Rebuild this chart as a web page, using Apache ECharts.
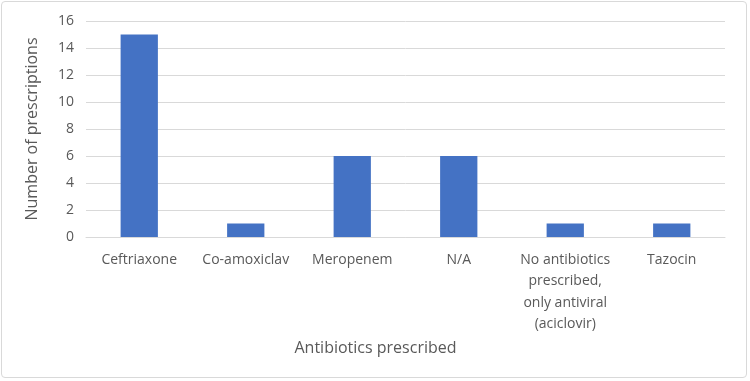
<!DOCTYPE html>
<html>
<head>
<meta charset="utf-8">
<script src="https://cdn.jsdelivr.net/npm/echarts@6/dist/echarts.min.js"></script>
<style>
  html, body { margin: 0; padding: 0; background: #fff; }
  #chart {
    width: 746px; height: 377px; margin: 1px;
    border: 1px solid #d9d9d9; border-radius: 4px; box-sizing: border-box;
  }
</style>
</head>
<body>
<div id="chart"></div>
<script>
// chart data
const categories = [
  "Ceftriaxone",
  "Co-amoxiclav",
  "Meropenem",
  "N/A",
  "No antibiotics\nprescribed,\nonly antiviral\n(aciclovir)",
  "Tazocin"
];
const prescriptions = [15, 1, 6, 6, 1, 1];
const yTicks = { min: 0, max: 16, interval: 2 };

const chart = echarts.init(document.getElementById("chart"));
chart.setOption({
  animation: false,
  textStyle: { fontFamily: "Open Sans" },
  grid: { left: 84, right: 21, top: 19, bottom: 140 },
  xAxis: {
    type: "category",
    data: categories,
    name: "Antibiotics prescribed",
    nameLocation: "middle",
    nameGap: 103,
    nameTextStyle: { fontSize: 16, color: "#595959", padding: [0, 60, 0, 0] },
    axisLine: { lineStyle: { color: "#d9d9d9" } },
    axisTick: { show: false },
    axisLabel: { fontSize: 14, color: "#595959", margin: 12, lineHeight: 21.5, interval: 0 }
  },
  yAxis: {
    type: "value",
    min: yTicks.min,
    max: yTicks.max,
    interval: yTicks.interval,
    name: "Number of prescriptions",
    nameLocation: "middle",
    nameGap: 46,
    nameTextStyle: { fontSize: 16, color: "#595959" },
    axisLine: { show: false },
    axisTick: { show: false },
    axisLabel: { fontSize: 14, color: "#595959", margin: 12 },
    splitLine: { lineStyle: { color: "#d9d9d9" } }
  },
  series: [
    {
      type: "bar",
      data: prescriptions,
      barWidth: "35%",
      itemStyle: { color: "#4472c4" }
    }
  ]
});
</script>
</body>
</html>
